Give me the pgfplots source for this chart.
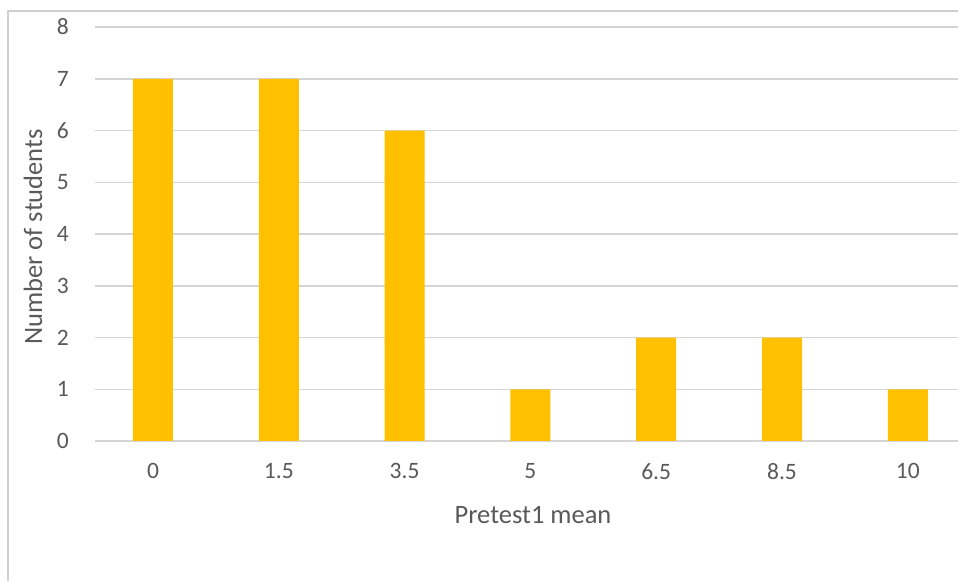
\documentclass[border=0pt]{standalone}
\usepackage{pgfplots}
\pgfplotsset{compat=1.18}
\usepackage{fontspec}
\setmainfont{Carlito}
\definecolor{barorange}{HTML}{FFC000}
\definecolor{gridgray}{HTML}{D5D5D5}
\definecolor{framegray}{HTML}{D0D0D0}
\definecolor{textgray}{HTML}{595959}
\begin{document}
\begin{tikzpicture}[x=1pt,y=1pt]
\useasboundingbox (0,0) rectangle (958,581);
% chart frame (left and top edges)
\draw[framegray, line width=1.6pt] (8,0) -- (8,570) -- (958,570);
\begin{axis}[
  at={(95pt,140pt)}, anchor=south west,
  scale only axis, width=863pt, height=414pt,
  xmin=-0.461, xmax=6.399,
  ymin=0, ymax=8,
  ytick={0,1,...,8},
  xtick={0,1,2,3,4,5,6},
  xticklabels={0,1.5,3.5,5,6.5,8.5,10},
  ymajorgrids, grid style={gridgray, line width=1.5pt},
  axis line style={draw=none},
  major tick length=0pt,
  /pgf/number format/assume math mode=true,
  ticklabel style={font=\fontsize{23.5}{23.5}\selectfont, text=textgray},
  xticklabel style={anchor=north, inner sep=0pt, yshift=-22pt},
  yticklabel style={anchor=east, inner sep=0pt, xshift=-26pt},
  xlabel={Pretest1 mean},
  ylabel={Number of students},
  label style={font=\fontsize{26.5}{26.5}\selectfont, text=textgray},
  xlabel style={at={(axis description cs:0.5075,-0.179)}, anchor=center},
  ylabel style={at={(axis description cs:-0.0718,0.493)}, anchor=center, rotate=0},
  ybar, bar width=40pt,
  clip=false,
]
\addplot[fill=barorange, draw=none] coordinates {
  (0,7) (1,7) (2,6) (3,1) (4,2) (5,2) (6,1)
};
\end{axis}
\end{tikzpicture}
\end{document}
